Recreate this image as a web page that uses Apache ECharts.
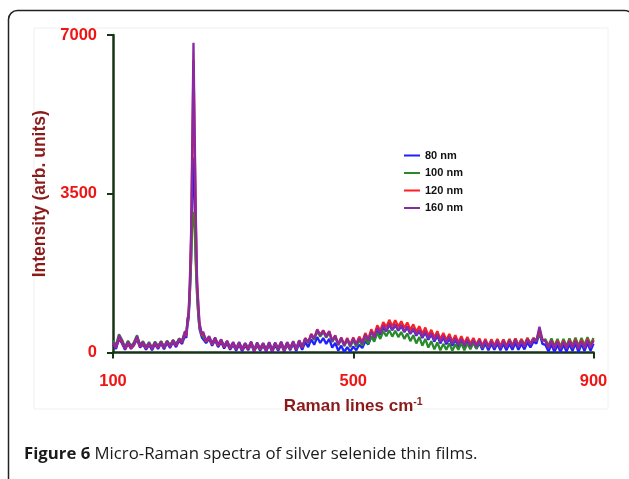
<!DOCTYPE html>
<html>
<head>
<meta charset="utf-8">
<script src="https://cdn.jsdelivr.net/npm/echarts@6/dist/echarts.min.js"></script>
<style>
html,body{margin:0;padding:0;background:#fff;}
#chart{width:629px;height:479px;}
</style>
</head>
<body>
<div id="chart"></div>
<script>
// Raman shift (cm^-1)
var ramanShift = [
100,105,110,115,120,125,130,135,140,145,150,155,160,165,170,175,180,185,190,195,200,205,210,215,
220,222,224,226,228,230,232,234,236,238,240,242,244,246,248,250,
255,260,265,270,275,280,285,290,295,300,
305,310,315,320,325,330,335,340,345,350,
355,360,365,370,375,380,385,390,395,400,
405,410,415,420,425,430,435,440,445,450,
455,460,465,470,475,480,485,490,495,500,
505,510,515,520,525,530,535,540,545,550,
555,560,565,570,575,580,585,590,595,600,
605,610,615,620,625,630,635,640,645,650,
655,660,665,670,675,680,685,690,695,700,
705,710,715,720,725,730,735,740,745,750,
755,760,765,770,775,780,785,790,795,800,
805,810,815,820,825,830,835,840,845,850,
855,860,865,870,875,880,885,890,895,900
];

var nm80 = [
180,80,300,200,60,190,80,160,290,110,180,60,170,50,180,80,200,70,210,100,230,120,260,190,
380,320,600,760,1300,2050,3450,4300,3350,2050,1300,830,520,500,330,370,
210,300,150,270,120,230,90,200,60,170,
40,170,30,150,50,180,20,160,40,150,
20,170,10,160,40,180,20,170,50,190,
30,200,60,230,120,290,170,340,210,320,
190,300,110,210,40,150,10,120,20,130,
50,170,100,250,180,340,280,460,390,540,
470,610,490,600,480,580,450,550,410,510,
370,470,320,440,280,400,240,370,200,330,
180,310,150,280,130,260,110,240,100,220,
80,210,60,200,50,190,60,200,50,190,
50,190,60,210,60,190,70,220,110,240,
200,430,190,170,20,180,10,170,10,170,
20,180,30,200,10,190,30,210,40,190
];

var nm100 = [
260,160,400,280,120,260,140,230,380,170,250,120,230,110,240,140,250,130,260,160,280,180,310,260,
460,380,700,860,1350,2000,2800,3100,2750,1900,1250,850,560,560,390,420,
250,350,190,320,160,280,130,250,100,220,
80,220,70,200,90,230,50,210,80,200,
60,220,50,210,80,230,60,220,90,240,
80,260,120,300,210,380,280,470,350,450,
330,440,230,350,160,300,140,280,120,270,
130,270,150,320,190,360,240,430,300,470,
360,490,350,480,340,450,300,420,250,380,
200,340,150,300,110,250,70,220,50,190,
60,200,40,180,60,210,50,200,70,220,
90,240,100,260,110,270,120,280,120,290,
130,300,140,310,150,300,160,320,190,320,
250,430,270,290,150,310,140,300,130,300,
140,310,150,330,140,320,160,340,170,320
];

var nm120 = [
200,110,340,230,80,210,100,180,320,130,210,90,200,80,210,110,230,100,240,130,260,150,290,220,
440,360,690,860,1500,2450,4350,6450,4550,2750,1500,1020,610,580,380,430,
240,340,180,310,150,270,120,240,90,210,
70,210,60,190,80,220,40,200,70,190,
50,210,40,200,70,220,50,210,80,230,
70,260,110,320,230,410,310,510,390,490,
360,470,260,380,180,330,170,320,170,330,
190,350,230,430,300,510,380,600,480,670,
560,720,580,710,570,690,540,660,500,620,
460,580,410,550,370,500,330,470,290,430,
270,410,240,380,220,360,200,340,190,320,
170,310,150,300,140,290,150,300,140,290,
140,290,150,310,150,290,160,320,190,320,
260,500,270,260,110,270,100,260,90,260,
100,270,110,290,90,280,110,300,120,280
];

var nm160 = [
230,120,380,260,90,240,130,200,360,150,230,110,210,90,220,130,240,110,250,140,270,160,300,240,
470,380,720,900,1600,2650,4700,6830,4850,2950,1600,1100,650,620,400,460,
260,360,200,330,170,290,140,260,110,230,
90,230,80,210,100,240,60,220,90,210,
70,230,60,220,90,240,70,230,100,250,
80,270,120,310,220,400,300,500,380,480,
350,460,250,370,170,320,160,300,150,310,
170,320,200,390,260,460,330,540,420,600,
480,640,500,630,490,610,460,580,420,540,
390,500,340,470,310,430,270,410,230,370,
220,350,190,320,170,300,150,290,140,270,
130,270,110,260,100,250,110,260,100,250,
110,260,120,280,120,260,130,290,170,300,
260,570,280,250,100,260,90,240,80,240,
90,250,100,260,80,250,100,270,110,260
];

var seriesNames = ['80 nm','100 nm','120 nm','160 nm'];
var seriesColors = ['#1f1fff','#2a8a2a','#ff1f1f','#8a2aa0'];
var seriesValues = [nm80, nm100, nm120, nm160];
var xTicks = [100, 500, 900];
var yTicks = [0, 3500, 7000];

function pairs(vals){
  return ramanShift.map(function(x,i){return [x, vals[i]];});
}

var chart = echarts.init(document.getElementById('chart'), null, {renderer:'canvas'});
var option = {
  backgroundColor:'#fff',
  animation:false,
  grid:{left:113, right:35.5, top:35, bottom:126.5},
  legend:{
    left:399, top:145, orient:'vertical',
    itemWidth:16, itemHeight:10, itemGap:6.5,
    icon:'path://M0,0 L16,0 L16,2 L0,2 Z',
    textStyle:{fontFamily:'Liberation Sans, Arial', fontWeight:'bold', fontSize:11, color:'#111'},
    data:seriesNames
  },
  xAxis:{
    type:'value', min:100, max:900, interval:400,
    axisLine:{show:true, onZero:false, lineStyle:{color:'#173417', width:2.5}},
    axisTick:{show:true, length:6, lineStyle:{color:'#173417', width:2}},
    splitLine:{show:false},
    axisLabel:{margin:20, color:'#f01414', fontFamily:'Liberation Sans, Arial', fontWeight:'bold', fontSize:16.5,
      formatter:function(v){return xTicks.indexOf(v)>=0 ? String(v) : '';}},
    name:'{a|Raman lines cm}{s|-1}', nameLocation:'middle', nameGap:44,
    nameTextStyle:{rich:{
      a:{fontFamily:'Liberation Sans, Arial', fontWeight:'bold', fontSize:17, color:'#8b1a1a'},
      s:{fontFamily:'Liberation Sans, Arial', fontWeight:'bold', fontSize:10.5, color:'#8b1a1a', padding:[0,0,9,0]}
    }}
  },
  yAxis:{
    type:'value', min:0, max:7000, interval:3500,
    axisLine:{show:true, lineStyle:{color:'#173417', width:2.5}},
    axisTick:{show:true, length:6, lineStyle:{color:'#173417', width:2}},
    splitLine:{show:false},
    axisLabel:{margin:16, color:'#f01414', fontFamily:'Liberation Sans, Arial', fontWeight:'bold', fontSize:16.5,
      formatter:function(v){return yTicks.indexOf(v)>=0 ? String(v) : '';}},
    name:'Intensity (arb. units)', nameLocation:'middle', nameGap:60,
    nameTextStyle:{fontFamily:'Liberation Sans, Arial', fontWeight:'bold', fontSize:17.5, color:'#8b1a1a'}
  },
  series: seriesNames.map(function(n,i){
    return {
      name:n, type:'line', data:pairs(seriesValues[i]),
      symbol:'none', showSymbol:false, smooth:false,
      lineStyle:{color:seriesColors[i], width:2.3},
      itemStyle:{color:seriesColors[i]},
      z:2+i
    };
  }),
  graphic:[
    {type:'rect', silent:true, z:-10, shape:{x:34, y:28, width:574, height:381},
     style:{fill:null, stroke:'#f0f0f0', lineWidth:1}},
    {type:'rect', silent:true, z:100, shape:{x:8.5, y:10.5, width:625, height:520, r:9},
     style:{fill:null, stroke:'#222', lineWidth:1.5}},
    {type:'text', silent:true, z:100, left:24, top:446,
     style:{text:'{b|Figure 6} Micro-Raman spectra of silver selenide thin films.',
       fontFamily:'Open Sans', fontSize:16.75, fill:'#1a1a1a',
       rich:{b:{fontFamily:'Open Sans', fontSize:16.75, fontWeight:'bold', fill:'#1a1a1a'}}}}
  ]
};
chart.setOption(option);
</script>
</body>
</html>
